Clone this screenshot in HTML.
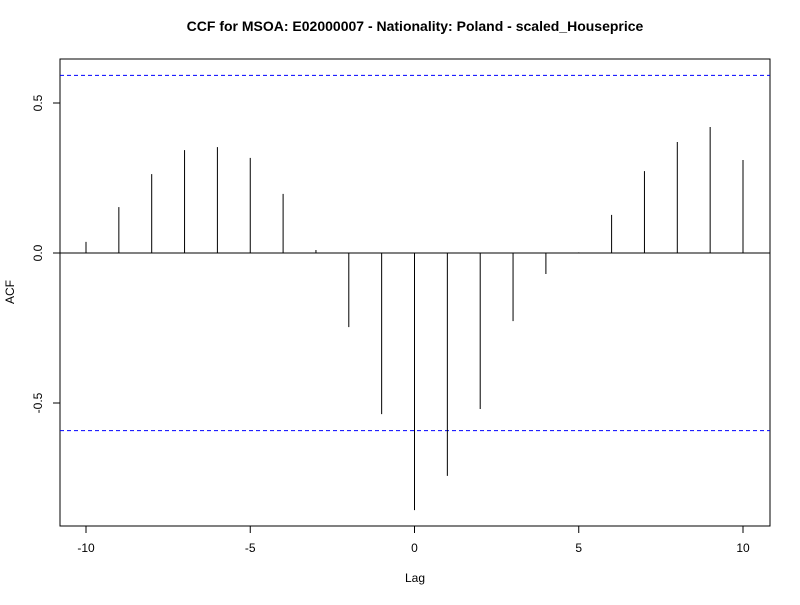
<!DOCTYPE html>
<html><head><meta charset="utf-8"><style>
body{margin:0;background:#fff;}
svg text{font-family:"Liberation Sans",Arial,sans-serif;}
</style></head><body>
<svg id="chart" width="800" height="600" xmlns="http://www.w3.org/2000/svg">
<text x="415" y="31" text-anchor="middle" font-size="14" font-weight="bold">CCF for MSOA: E02000007 - Nationality: Poland - scaled_Houseprice</text>
<rect x="60" y="59" width="710" height="467" fill="none" stroke="#000" stroke-width="1"/>
<text x="415" y="582" text-anchor="middle" font-size="12">Lag</text>
<text x="14" y="292" text-anchor="middle" font-size="12" transform="rotate(-90 14 292)">ACF</text>
<g id="marks"></g>
</svg>
<script>
const lags=[-10,-9,-8,-7,-6,-5,-4,-3,-2,-1,0,1,2,3,4,5,6,7,8,9,10];
const acfValues=[0.037,0.153,0.263,0.343,0.353,0.317,0.197,0.01,-0.247,-0.537,-0.857,-0.743,-0.52,-0.227,-0.07,0.002,0.127,0.273,0.37,0.42,0.31];
const ciBound=0.592;
const xTicks=[-10,-5,0,5,10];
const yTicks=[-0.5,0.0,0.5];
const yTickLabels=["-0.5","0.0","0.5"];
const ns="http://www.w3.org/2000/svg";
const X=v=>414.5+v*32.85;
const Y=v=>253-v*300;
const g=document.getElementById('marks');
function mk(t,a){const e=document.createElementNS(ns,t);for(const k in a)e.setAttribute(k,a[k]);g.appendChild(e);return e;}
// zero line
let z=mk('line',{x1:60,x2:770,y1:Y(0),y2:Y(0),stroke:'#000'});


[ciBound,-ciBound].forEach((c,i)=>{
 const l=mk('line',{x1:60,x2:770,y1:Y(c),y2:Y(c),stroke:'#0000ff','stroke-dasharray':'4,3'});
 
 
});
lags.forEach((lag,i)=>{
 const b=mk('line',{x1:X(lag),x2:X(lag),y1:Y(0),y2:Y(acfValues[i]),stroke:'#000'});
 
 
});
xTicks.forEach(t=>{
 const l=mk('line',{x1:X(t),x2:X(t),y1:526,y2:533,stroke:'#000'});
 
 
 const tx=mk('text',{x:X(t),y:552,'text-anchor':'middle','font-size':12});
 tx.textContent=String(t);
 
 
});
yTicks.forEach((t,i)=>{
 const l=mk('line',{x1:53,x2:60,y1:Y(t),y2:Y(t),stroke:'#000'});
 
 
 const tx=mk('text',{x:42,y:Y(t),'text-anchor':'middle','font-size':12,transform:'rotate(-90 42 '+Y(t)+')'});
 tx.textContent=yTickLabels[i];
 
 
});
</script>
</body></html>
